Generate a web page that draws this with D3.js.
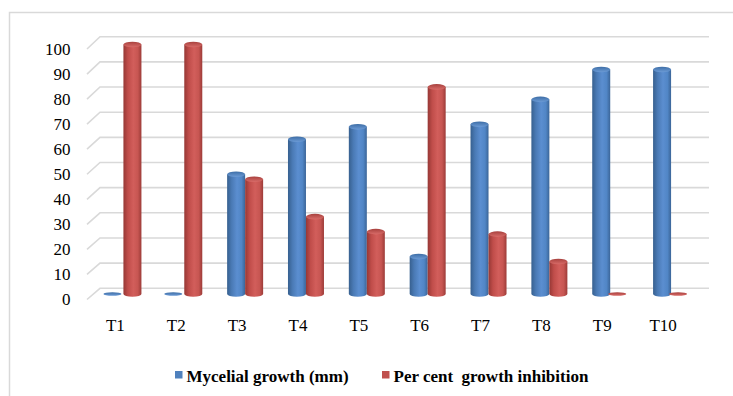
<!DOCTYPE html>
<html>
<head>
<meta charset="utf-8">
<script src="https://cdn.jsdelivr.net/npm/d3@7"></script>
<style>
  html, body { margin: 0; padding: 0; background: #fff; }
  svg { display: block; }
</style>
</head>
<body>
<svg id="chart" width="733" height="396"></svg>
<script>
// Treatments and their two measured series
const categories = ["T1", "T2", "T3", "T4", "T5", "T6", "T7", "T8", "T9", "T10"];
const mycelialGrowth = [0, 0, 48, 62, 67, 15, 68, 78, 90, 90];
const growthInhibition = [100, 100, 46, 31, 25, 83, 24, 13, 0, 0];
const yTicks = [0, 10, 20, 30, 40, 50, 60, 70, 80, 90, 100];
const seriesNames = ["Mycelial growth (mm)", "Per cent  growth inhibition"];

const FONT = '"Liberation Serif"';

const svg = d3.select("#chart");
const defs = svg.append("defs");

// Outer chart-area frame
svg.append("rect")
  .attr("x", 9.5).attr("y", 12.5)
  .attr("width", 740).attr("height", 400)
  .attr("fill", "none").attr("stroke", "#d9d9d9").attr("stroke-width", 1.5);

// Scales: front plane (labels, side-wall edge), back wall, and bar heights
const yFront = d3.scaleLinear().domain([0, 100]).range([299.5, 49]);
const yBack = d3.scaleLinear().domain([0, 100]).range([288.3, 36.7]);
const yBar = d3.scaleLinear().domain([0, 100]).range([294, 44.5]);
const x = d3.scaleBand().domain(categories).range([93, 701.5]).paddingInner(0).paddingOuter(0);

const wallLeft = 100, wallRight = 709, sideLeft = 87;

// Back-wall gridlines with their side-wall diagonals
const grid = svg.append("g").attr("stroke", "#d9d9d9").attr("stroke-width", 1.6).attr("fill", "none");
grid.selectAll("path").data(yTicks).join("path")
  .attr("d", v => `M${sideLeft},${yFront(v)}L${wallLeft},${yBack(v)}L${wallRight},${yBack(v)}`);

// Y axis labels
svg.append("g").selectAll("text").data(yTicks).join("text")
  .attr("x", 70.5).attr("y", v => yFront(v))
  .attr("dy", "0.35em")
  .attr("text-anchor", "end")
  .style("font-family", FONT)
  .style("font-size", "17px")
  .attr("fill", "#000")
  .text(v => v);

// Category labels
svg.append("g").selectAll("text").data(categories).join("text")
  .attr("x", c => x(c) + x.bandwidth() / 2 - 8)
  .attr("y", 325)
  .attr("dy", "0.35em")
  .attr("text-anchor", "middle")
  .style("font-family", FONT)
  .style("font-size", "17px")
  .attr("fill", "#000")
  .text(c => c);

// Cylinder shading
const palettes = [
  { id: "blue", stops: ["#37608f", "#4a7ab5", "#5b8ed0", "#5186c6", "#3b6598"], top: "#3e6ea6", topRim: "#6c9bd6", legend: "#4f81bd" },
  { id: "red", stops: ["#963835", "#c04d4a", "#d25e5b", "#c75652", "#9c3b38"], top: "#a8413e", topRim: "#d96c69", legend: "#c0504d" }
];
palettes.forEach(p => {
  const g = defs.append("linearGradient").attr("id", "body-" + p.id)
    .attr("x1", 0).attr("x2", 1).attr("y1", 0).attr("y2", 0);
  [0, 0.25, 0.55, 0.8, 1].forEach((o, i) => g.append("stop").attr("offset", o).attr("stop-color", p.stops[i]));
  const t = defs.append("linearGradient").attr("id", "top-" + p.id)
    .attr("x1", 0).attr("x2", 0).attr("y1", 0).attr("y2", 1);
  t.append("stop").attr("offset", 0).attr("stop-color", p.top);
  t.append("stop").attr("offset", 1).attr("stop-color", p.topRim);
});

const barW = 18, rx = barW / 2, ry = 2.8;
const series = [
  { values: mycelialGrowth, pal: palettes[0], offset: -rx },
  { values: growthInhibition, pal: palettes[1], offset: rx }
];

series.forEach(s => {
  const g = svg.append("g");
  const data = categories.map((c, i) => ({ c, v: s.values[i] }));
  const cyl = g.selectAll("g").data(data).join("g")
    .attr("transform", d => `translate(${x(d.c) + x.bandwidth() / 2 + s.offset},0)`);

  // body: side walls with rounded bottom
  cyl.filter(d => d.v > 0).append("path")
    .attr("fill", `url(#body-${s.pal.id})`)
    .attr("d", d => {
      const yt = yBar(d.v), yb = yBar(0);
      return `M${-rx},${yt}L${-rx},${yb}A${rx},${ry} 0 0 0 ${rx},${yb}L${rx},${yt}Z`;
    });

  // top cap (flat disc for zero values)
  cyl.append("ellipse")
    .attr("cx", d => d.v > 0 ? 0 : -2)
    .attr("cy", d => yBar(d.v))
    .attr("rx", rx)
    .attr("ry", d => d.v > 0 ? ry : 1.8)
    .attr("fill", `url(#top-${s.pal.id})`);
});

// Legend
const legendX = [175, 382];
seriesNames.forEach((name, i) => {
  svg.append("rect")
    .attr("x", legendX[i]).attr("y", 371)
    .attr("width", 7.5).attr("height", 7.5)
    .attr("fill", palettes[i].legend);
  svg.append("text")
    .attr("x", legendX[i] + 11.5).attr("y", 381.5)
    .attr("fill", "#000")
    .style("font-family", FONT)
    .style("font-size", "17px")
    .style("font-weight", "bold")
    .style("white-space", "pre")
    .text(name);
});
</script>
</body>
</html>
